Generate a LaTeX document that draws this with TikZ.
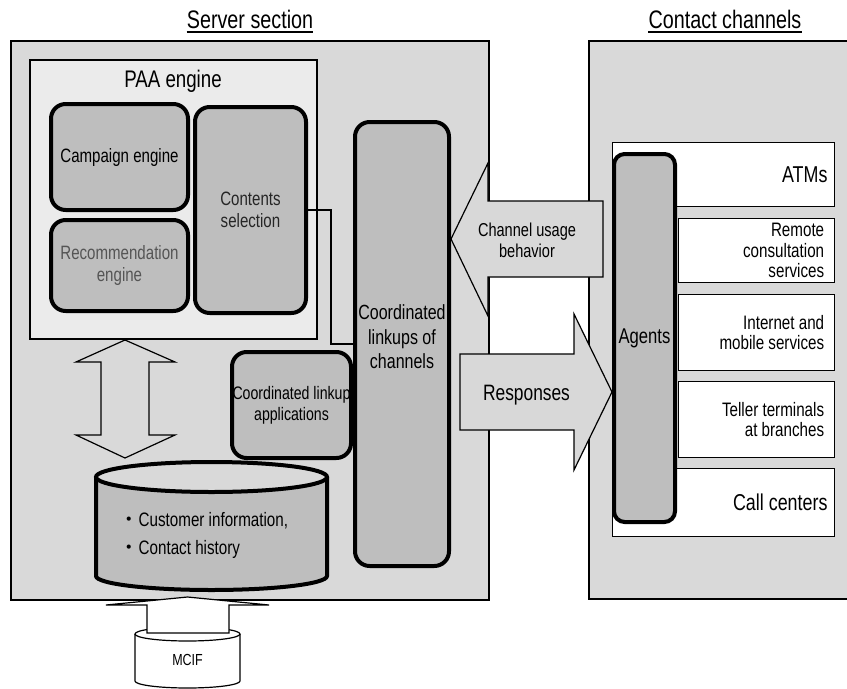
\documentclass[tikz,border=0pt]{standalone}
\usepackage{fontspec}
\setmainfont{Liberation Sans}[FakeStretch=0.78]
\newfontfamily\cjk{Noto Sans CJK JP}
\usepackage{tikz}
\definecolor{panelgray}{HTML}{D9D9D9}
\definecolor{paagray}{HTML}{EBEBEB}
\definecolor{boxgray}{HTML}{BEBEBE}
\definecolor{arrowgray}{HTML}{D8D8D8}
\definecolor{softtext}{HTML}{555555}
\tikzset{
  panel/.style={draw, line width=0.9pt, fill=panelgray},
  enginebox/.style={draw, line width=3pt, fill=boxgray, rounded corners=11pt,
    inner sep=0pt, align=center, font=\fontsize{14.5}{16.3}\selectfont},
  chanbox/.style={draw, line width=0.9pt, fill=white, inner sep=0pt},
  chantext/.style={align=right, inner sep=0pt, font=\fontsize{14.6}{15.4}\selectfont},
  bigtext/.style={inner sep=0pt, font=\fontsize{17.2}{18}\selectfont},
  titletext/.style={inner sep=0pt, font=\fontsize{19}{20}\selectfont},
  blockarrow/.style={draw, line width=0.9pt, fill=arrowgray, line join=miter},
  linkline/.style={line width=0.9pt},
  cylline/.style={line width=3pt},
}
\begin{document}
\begin{tikzpicture}[x=0.75pt, y=-0.75pt]
    \useasboundingbox (0,0) rectangle (847,689);
    % titles
    \node[titletext, anchor=base] (srvtitle) at (250,28) {Server section};
    \draw[linkline] ([yshift=-3pt]srvtitle.base west) -- ([yshift=-3pt]srvtitle.base east);
    \node[titletext, anchor=base] (chantitle) at (725,28) {Contact channels};
    \draw[linkline] ([yshift=-3pt]chantitle.base west) -- ([yshift=-3pt]chantitle.base east);
    % panels
    \draw[panel] (11,41) rectangle (489,600);
    \draw[panel] (589,41) rectangle (852,599);
    % PAA engine
    \draw[linkline, fill=paagray] (30,60) rectangle (317,339);
    \node[inner sep=0pt, font=\fontsize{18}{20}\selectfont] (paatitle) at (173,81) {PAA engine};
    \node[enginebox, minimum width=102.75pt, minimum height=79.5pt] (camp) at (119.5,157)
      {Campaign engine};
    \node[enginebox, minimum width=102.75pt, minimum height=68.25pt, text=softtext] (rec)
      at (119.5,265.5) {Recommendation\\engine};
    \node[enginebox, minimum width=83.25pt, minimum height=154.5pt, text=black!85] (cs)
      at (250.5,210) {Contents\\selection};
    % coordinated linkups
    \node[enginebox, minimum width=70.5pt, minimum height=333pt] (cl) at (402,344) {};
    \node[align=center, inner sep=0pt, font=\fontsize{15.4}{18.4}\selectfont] (cltext)
      at (402,337) {Coordinated\\linkups of\\channels};
    \node[enginebox, minimum width=89.25pt, minimum height=79.5pt] (apps) at (291.5,405) {};
    \node[align=center, inner sep=0pt, font=\fontsize{13.6}{15.8}\selectfont] (appstext)
      at (apps.center) {Coordinated linkup\\applications};
    \draw[linkline] (cs.east) -- ++(23,0) |- (cl.west);
    % two-way arrow PAA <-> database
    \draw[blockarrow, fill=panelgray] (125,340) -- (175,362) -- (149,362) -- (149,435)
      -- (175,435) -- (125,458) -- (76,435) -- (101,435) -- (101,362) -- (76,362) -- cycle;
    % customer database
    \fill[boxgray] (96,477) -- (96,576) arc[start angle=180, end angle=0,
      x radius=115.5, y radius=14] -- (327,477) -- cycle;
    \draw[cylline] (96,477) -- (96,576) arc[start angle=180, end angle=0,
      x radius=115.5, y radius=14] -- (327,477);
    \filldraw[cylline, fill=panelgray] (211.5,477) ellipse[x radius=115.5, y radius=15];
    \node[align=left, anchor=west, inner sep=0pt, font=\fontsize{14.6}{21}\selectfont] (db)
      at (119,535) {{\cjk ・}Customer information,\\{\cjk ・}Contact history};
    % MCIF
    \filldraw[linkline, fill=white] (135,634) -- (135,681) arc[start angle=180, end angle=0,
      x radius=52.5, y radius=7] -- (240,634);
    \filldraw[linkline, fill=white] (187.5,634) ellipse[x radius=52.5, y radius=7];
    \node[inner sep=0pt, font=\fontsize{12}{14}\selectfont] (mcif) at (187.5,660) {MCIF};
    \draw[blockarrow, fill=white] (187.5,597) -- (269,605) -- (229,605) -- (229,633)
      -- (147,633) -- (147,605) -- (106,605) -- cycle;
    % channels
    \node[chanbox, minimum width=166.5pt, minimum height=48pt] (atm) at (723.5,174.5) {};
    \node[bigtext, anchor=east] at ([xshift=-5.5pt]atm.east) {ATMs};
    \node[chanbox, minimum width=166.5pt, minimum height=51pt] (call) at (723.5,502.5) {};
    \node[bigtext, anchor=east] at ([xshift=-5.5pt]call.east) {Call centers};
    \foreach \nm/\cy/\h/\txt in {remote/250.5/48/{Remote\\consultation\\services},
                                 inet/332.5/57/{Internet and\\mobile services},
                                 teller/419.5/57/{Teller terminals\\at branches}}
      { \node[chanbox, minimum width=117pt, minimum height=\h pt] (\nm) at (756.5,\cy) {};
        \node[chantext, anchor=east] at ([xshift=-8pt]\nm.east) {\txt}; }
    \node[enginebox, rounded corners=8pt, minimum width=45.75pt, minimum height=276pt,
      font=\fontsize{16}{18}\selectfont] (agents) at (644.5,338) {Agents};
    % flows between sections
    \draw[blockarrow] (451,239) -- (488,163) -- (488,201) -- (603,201) -- (603,277)
      -- (488,277) -- (488,316) -- cycle;
    \node[align=center, inner sep=0pt, font=\fontsize{14}{15.8}\selectfont] (usage)
      at (527,240) {Channel usage\\behavior};
    \draw[blockarrow] (460,354) -- (574,354) -- (574,314) -- (agents.west |- 0,392)
      -- (574,470) -- (574,430) -- (460,430) -- cycle;
    \node[bigtext, font=\fontsize{16.7}{18}\selectfont] (resp) at (526.5,395) {Responses};
\end{tikzpicture}
\end{document}
